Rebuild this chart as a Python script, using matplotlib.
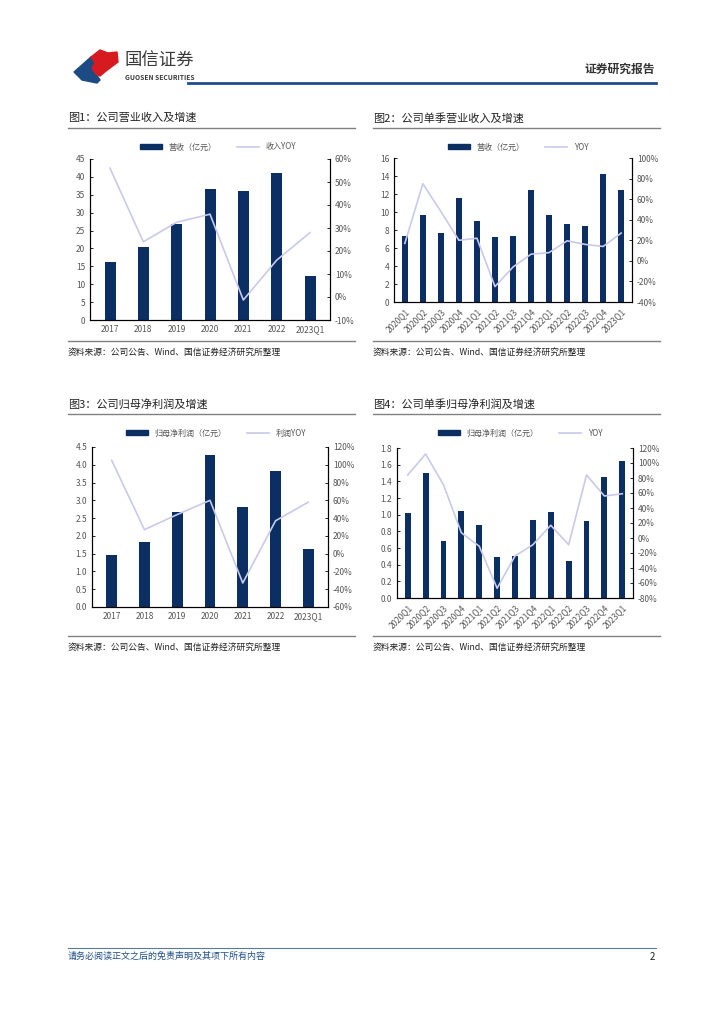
import matplotlib
matplotlib.use("Agg")
import matplotlib.pyplot as plt
from matplotlib.patches import Polygon, Patch
from matplotlib.lines import Line2D
from matplotlib.ticker import FuncFormatter, MultipleLocator

plt.rcParams['font.family'] = ['Noto Sans CJK SC', 'DejaVu Sans']
plt.rcParams['axes.unicode_minus'] = False

BAR = '#0B2F62'
LINE = '#C9C9EE'

# ---- data ----
years = ['2017', '2018', '2019', '2020', '2021', '2022', '2023Q1']
quarters = ['2020Q1', '2020Q2', '2020Q3', '2020Q4', '2021Q1', '2021Q2', '2021Q3',
            '2021Q4', '2022Q1', '2022Q2', '2022Q3', '2022Q4', '2023Q1']

rev_year = [16.3, 20.4, 26.8, 36.5, 36.1, 41.2, 12.3]
rev_year_yoy = [56, 24, 32.5, 36, -1.3, 16, 28]

rev_q = [7.3, 9.7, 7.7, 11.6, 9.0, 7.2, 7.3, 12.4, 9.7, 8.7, 8.5, 14.2, 12.5]
rev_q_yoy = [17, 75, 48, 20, 22, -25, -6, 6.5, 8, 19.5, 16, 14, 27]

np_year = [1.45, 1.83, 2.67, 4.27, 2.80, 3.83, 1.62]
np_year_yoy = [105, 27, 44, 60, -33, 37, 58]

np_q = [1.02, 1.50, 0.68, 1.05, 0.88, 0.49, 0.50, 0.94, 1.03, 0.44, 0.92, 1.45, 1.64]
np_q_yoy = [84, 112, 71, 7, -11, -67, -24, -9, 17, -9, 84, 56, 59]

W, H = 724, 1024
fig = plt.figure(figsize=(W / 100, H / 100), dpi=100)
fig.patch.set_facecolor('white')

# overlay for page decorations, pixel coordinates
pg = fig.add_axes([0, 0, 1, 1])
pg.set_xlim(0, W)
pg.set_ylim(H, 0)
pg.axis('off')


def fx(x):
    return x / W


def fy(y):
    return 1 - y / H


# ---- header ----
pg.add_patch(Polygon([(74, 72), (91, 57), (95, 63), (92, 68), (96, 74), (100, 80), (97, 83), (82, 80)],
                     closed=True, color='#1C4A82'))
pg.add_patch(Polygon([(91, 57), (100, 50), (108, 53), (117, 52), (118, 62), (106, 71), (100, 76),
                      (96, 74), (92, 68), (95, 63)],
                     closed=True, color='#D71920'))
pg.text(125, 61, '国信证券', fontsize=12.5, color='#3A3A3A', va='center', ha='left')
pg.text(125, 77, 'GUOSEN SECURITIES', fontsize=4.8, color='#3A3A3A', va='center', ha='left',
        fontweight='bold')
pg.plot([188, 656], [83, 83], color='#1F4E8C', lw=2)
pg.text(655, 69, '证券研究报告', fontsize=8.5, color='#333333', ha='right', va='center', fontweight='bold')

# ---- footer ----
pg.plot([68, 656], [948, 948], color='#5A7A9A', lw=0.8)
pg.text(68, 956, '请务必阅读正文之后的免责声明及其项下所有内容', fontsize=6.5, color='#1F4E8C',
        style='italic', ha='left', va='center')
pg.text(655, 957, '2', fontsize=7, color='#222222', ha='right', va='center')

# ---- titles and sources ----
titles = [(68, 118, '图1：公司营业收入及增速'), (373, 118, '图2：公司单季营业收入及增速'),
          (68, 404, '图3：公司归母净利润及增速'), (373, 404, '图4：公司单季归母净利润及增速')]
for x, y, t in titles:
    pg.text(x, y, t, fontsize=8, color='#222222', ha='left', va='center')
    pg.plot([x, x + 287], [y + 10, y + 10], color='#808080', lw=1)

for x, y in [(68, 341), (373, 341), (68, 636), (373, 636)]:
    pg.plot([x, x + 287], [y, y], color='#808080', lw=1)
    pg.text(x, y + 11, '资料来源：公司公告、Wind、国信证券经济研究所整理', fontsize=6.3,
            color='#222222', ha='left', va='center')


def make_chart(box, cats, bars, yoy, ylim, ystep, yfmt, rlim, rstep, legend_xy,
               bar_label, line_label, rotate):
    x0, y0, x1, y1 = box
    ax = fig.add_axes([fx(x0), fy(y1), fx(x1 - x0), (y1 - y0) / H])
    ax.set_zorder(2)
    ax.patch.set_alpha(0)
    xs = list(range(len(cats)))
    ax.bar(xs, bars, width=0.33, color=BAR, zorder=2)
    ax.set_ylim(*ylim)
    ax.set_xlim(-0.6, len(cats) - 0.4)
    ax.yaxis.set_major_locator(MultipleLocator(ystep))
    ax.yaxis.set_major_formatter(FuncFormatter(yfmt))
    ax.spines['top'].set_visible(False)
    for s in ['left', 'right', 'bottom']:
        ax.spines[s].set_linewidth(0.8)
    ax.tick_params(axis='y', direction='in', length=2, labelsize=6, labelcolor='#555555', width=0.6)
    ax.tick_params(axis='x', direction='in', length=2, labelsize=6, labelcolor='#555555', width=0.6)
    ax.set_xticks(xs)
    if rotate:
        ax.set_xticklabels(cats, rotation=45, ha='right', rotation_mode='anchor')
    else:
        ax.set_xticklabels(cats)

    ax2 = ax.twinx()
    ax2.plot(xs, yoy, color=LINE, lw=1.2, zorder=3)
    ax2.set_ylim(*rlim)
    ax2.yaxis.set_major_locator(MultipleLocator(rstep))
    ax2.yaxis.set_major_formatter(FuncFormatter(lambda v, p: '%d%%' % round(v)))
    ax2.spines['top'].set_visible(False)
    ax2.spines['right'].set_linewidth(0.8)
    ax2.tick_params(axis='y', direction='in', length=2, labelsize=6, labelcolor='#555555', width=0.6)

    handles = [Patch(color=BAR), Line2D([0], [0], color=LINE, lw=1.2)]
    ax.legend(handles, [bar_label, line_label], loc='center', ncol=2, frameon=False,
              bbox_to_anchor=(fx(legend_xy[0]), fy(legend_xy[1])), bbox_transform=fig.transFigure,
              fontsize=5.8, handlelength=2.8, handleheight=0.6, columnspacing=2.5,
              labelcolor='#555555')
    return ax


make_chart((90, 159, 330, 320), years, rev_year, rev_year_yoy, (0, 45), 5,
           lambda v, p: '%d' % round(v), (-10, 60), 10, (218, 147),
           '营收（亿元）', '收入YOY', False)
make_chart((394, 158, 632, 302), quarters, rev_q, rev_q_yoy, (0, 16), 2,
           lambda v, p: '%d' % round(v), (-40, 100), 20, (518, 147),
           '营收（亿元）', 'YOY', True)
make_chart((92, 447, 328, 607), years, np_year, np_year_yoy, (0, 4.5), 0.5,
           lambda v, p: '%.1f' % v, (-60, 120), 20, (216, 433),
           '归母净利润（亿元）', '利润YOY', False)
make_chart((397, 448, 633, 598), quarters, np_q, np_q_yoy, (0, 1.8), 0.2,
           lambda v, p: '%.1f' % v, (-80, 120), 20, (520, 433),
           '归母净利润（亿元）', 'YOY', True)

fig.savefig('out.png', dpi=100)
